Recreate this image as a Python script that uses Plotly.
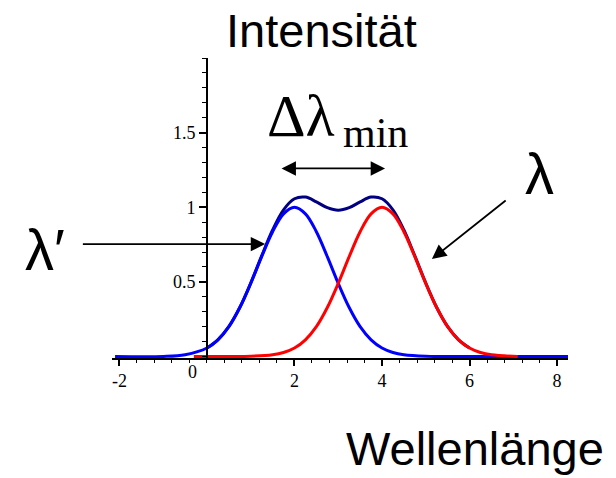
import plotly.graph_objects as go

# ---- data ----
blue_x = [-2.1, -1.0, -0.5, 0.0, 0.25, 0.5, 0.75, 1.0, 1.25, 1.5, 1.75, 2.0, 2.25, 2.5,
          2.75, 3.0, 3.25, 3.5, 3.75, 4.0, 4.25, 4.5, 5.0, 6.0, 7.0, 8.25]
blue_y = [0.0, 0.0, 0.012, 0.057, 0.112, 0.200, 0.328, 0.490, 0.669, 0.836, 0.956, 1.0, 0.956, 0.836,
          0.669, 0.490, 0.328, 0.200, 0.112, 0.057, 0.027, 0.012, 0.002, 0.0, 0.0, 0.0]

red_x = [-0.3, 1.0, 1.5, 1.75, 2.0, 2.25, 2.5, 2.75, 3.0, 3.25, 3.5, 3.75, 4.0, 4.25,
         4.5, 4.75, 5.0, 5.25, 5.5, 5.75, 6.0, 6.25, 6.5, 7.1]
red_y = [0.0, 0.002, 0.012, 0.027, 0.057, 0.112, 0.200, 0.328, 0.490, 0.669, 0.836, 0.956, 1.0, 0.956,
         0.836, 0.669, 0.490, 0.328, 0.200, 0.112, 0.057, 0.027, 0.012, 0.0]

sum_x = [0.0, 0.25, 0.5, 0.75, 1.0, 1.25, 1.5, 1.75, 2.0, 2.25, 2.5, 2.75, 3.0, 3.25, 3.5,
         3.75, 4.0, 4.25, 4.5, 4.75, 5.0, 5.25, 5.5, 5.75, 6.0]
sum_y = [0.057, 0.112, 0.200, 0.328, 0.492, 0.674, 0.848, 0.983, 1.057, 1.068, 1.036, 0.997, 0.980, 0.997, 1.036,
         1.068, 1.057, 0.983, 0.848, 0.674, 0.492, 0.328, 0.200, 0.112, 0.057]

x_tickvals = [-2, 2, 4, 6, 8]
x_ticktext = ["-2", "2", "4", "6", "8"]
y_tickvals = [0.5, 1, 1.5]
y_ticktext = ["0.5", "1", "1.5"]

X_RANGE = [-2.17, 8.25]
Y_RANGE = [-0.01, 2.0]

W, H = 616, 478
ML, MR, MT, MB = 112, 48, 58, 120
PW, PH = W - ML - MR, H - MT - MB


def px(xp, yp):
    return (xp - ML) / PW, (H - MB - yp) / PH


fig = go.Figure()
fig.add_trace(go.Scatter(x=sum_x, y=sum_y, mode="lines", line=dict(color="#000080", width=3, shape="spline")))
fig.add_trace(go.Scatter(x=blue_x, y=blue_y, mode="lines", line=dict(color="#0000FF", width=3, shape="spline")))
fig.add_trace(go.Scatter(x=red_x, y=red_y, mode="lines", line=dict(color="#FF0000", width=3, shape="spline")))

tickfont = dict(family="Liberation Serif", size=18, color="black")

fig.update_xaxes(range=X_RANGE, showline=True, linecolor="black", linewidth=1.5,
                 ticks="outside", ticklen=6, tickwidth=1.5, tickcolor="black",
                 tickvals=x_tickvals, ticktext=x_ticktext, tickfont=tickfont,
                 minor=dict(tickmode="linear", tick0=0, dtick=0.4, ticks="outside", ticklen=3,
                            tickwidth=1.2, tickcolor="black"),
                 showgrid=False, zeroline=False)
fig.update_yaxes(range=Y_RANGE, showline=True, linecolor="black", linewidth=1.5,
                 anchor="free", position=(0 - X_RANGE[0]) / (X_RANGE[1] - X_RANGE[0]),
                 ticks="outside", ticklen=7, tickwidth=1.5, tickcolor="black",
                 tickvals=y_tickvals, ticktext=y_ticktext, tickfont=tickfont,
                 minor=dict(tickmode="linear", tick0=0, dtick=0.1, ticks="outside", ticklen=4,
                            tickwidth=1.2, tickcolor="black"),
                 showgrid=False, zeroline=False)

ann = []
# "0" tick label shifted off the y axis
ann.append(dict(x=-0.34, y=0, xref="x", yref="y", text="0", showarrow=False, yshift=-15,
                font=tickfont))


def label(text, xp, yp, fam, size):
    xx, yy = px(xp, yp)
    return dict(x=xx, y=yy, xref="paper", yref="paper", text=text, showarrow=False,
                xanchor="center", yanchor="middle", font=dict(family=fam, size=size, color="black"))


ann.append(label("Intensität", 321, 30, "Liberation Sans", 47))
ann.append(label("Wellenlänge", 475, 448, "Liberation Sans", 47))
ann.append(label("Δλ", 301, 116, "Liberation Serif", 60))
ann.append(label("min", 375, 133, "Liberation Serif", 42))
ann.append(label("λ′", 45, 249, "Liberation Sans", 58))
ann.append(label("λ", 539, 173, "Liberation Sans", 58))

arrow = dict(xref="x", yref="y", axref="x", ayref="y", text="", showarrow=True,
             arrowhead=2, arrowsize=1.6, arrowwidth=1.8, arrowcolor="black", standoff=0, startstandoff=0)
ann.append(dict(arrow, x=1.33, y=0.753, ax=-2.87, ay=0.753))
ann.append(dict(arrow, x=5.14, y=0.653, ax=6.86, ay=1.053))
ann.append(dict(arrow, x=4.07, y=1.26, ax=1.67, ay=1.26, arrowside="end+start"))

fig.update_layout(width=W, height=H, margin=dict(l=ML, r=MR, t=MT, b=MB),
                  plot_bgcolor="white", paper_bgcolor="white", showlegend=False,
                  annotations=ann)

fig.write_html("out.html", config={"displayModeBar": False},
               post_script="document.body.style.margin='0';document.body.style.padding='0';")
